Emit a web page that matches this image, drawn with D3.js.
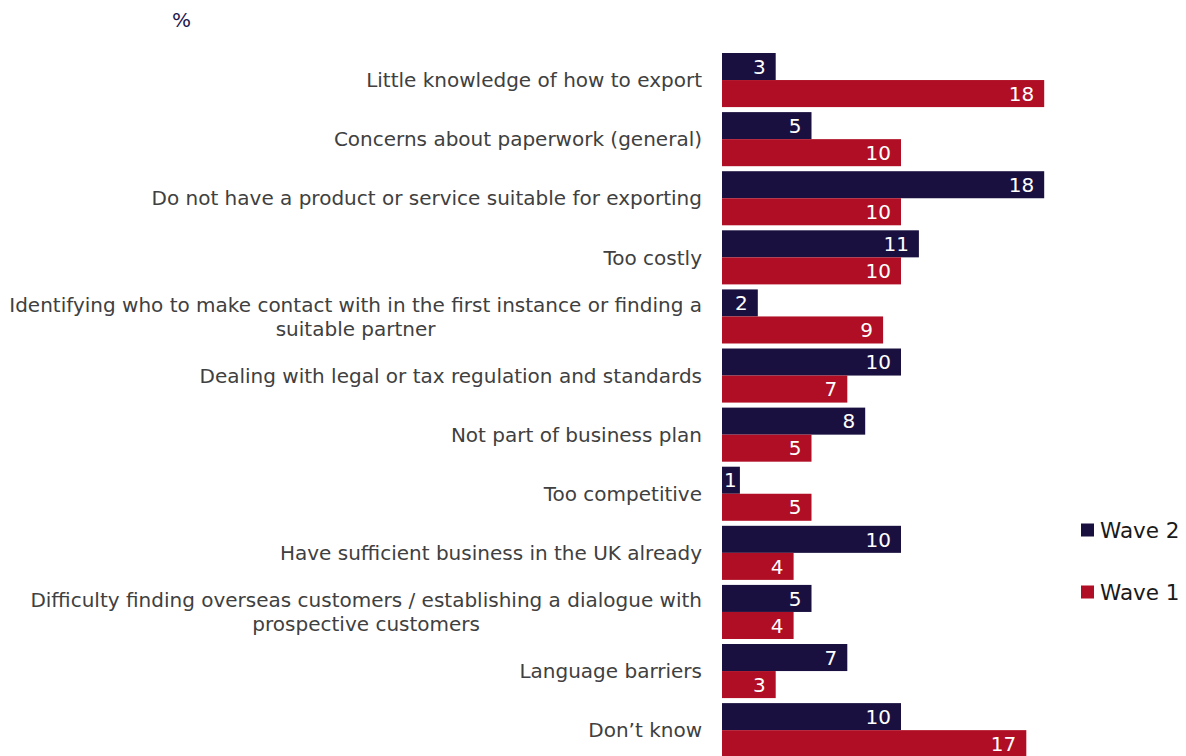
<!DOCTYPE html>
<html>
<head>
<meta charset="utf-8">
<script src="https://cdn.jsdelivr.net/npm/d3@7"></script>
<style>
  html, body { margin: 0; padding: 0; background: #ffffff; }
  svg { display: block; }
  text { font-family: "DejaVu Sans", Verdana, sans-serif; }
</style>
</head>
<body>
<svg id="chart" width="1186" height="756"></svg>
<script>
// Barriers to exporting, % of businesses, by survey wave
const categories = [
  "Little knowledge of how to export",
  "Concerns about paperwork (general)",
  "Do not have a product or service suitable for exporting",
  "Too costly",
  "Identifying who to make contact with in the first instance or finding a\nsuitable partner",
  "Dealing with legal or tax regulation and standards",
  "Not part of business plan",
  "Too competitive",
  "Have sufficient business in the UK already",
  "Difficulty finding overseas customers / establishing a dialogue with\nprospective customers",
  "Language barriers",
  "Don\u2019t know"
];
const wave2 = [3, 5, 18, 11, 2, 10, 8, 1, 10, 5, 7, 10];
const wave1 = [18, 10, 10, 10, 9, 7, 5, 5, 4, 4, 3, 17];
const seriesNames = ["Wave 2", "Wave 1"];
const seriesColors = ["#1a103f", "#b00e24"];
const unitLabel = "%";

const svg = d3.select("#chart");

const x = d3.scaleLinear().domain([0, 25]).range([722, 722 + 25 * 17.9]);
const y = d3.scaleBand().domain(categories).range([50.5, 759.7])
  .paddingInner(0.085).paddingOuter(0.0425);
const ySub = d3.scaleBand().domain(seriesNames).range([0, y.bandwidth()]);
const color = d3.scaleOrdinal().domain(seriesNames).range(seriesColors);

const rows = categories.map((c, i) => ({
  category: c,
  values: [
    { series: "Wave 2", value: wave2[i] },
    { series: "Wave 1", value: wave1[i] }
  ]
}));

// unit caption
svg.append("text")
  .attr("x", 172).attr("y", 27)
  .attr("fill", "#1f1a4d")
  .style("font-size", "20px")
  .text(unitLabel);

// bars and value labels
const groups = svg.append("g").selectAll("g")
  .data(rows).join("g")
  .attr("transform", d => `translate(0,${y(d.category)})`);

groups.selectAll("rect")
  .data(d => d.values).join("rect")
  .attr("x", x(0))
  .attr("y", d => ySub(d.series))
  .attr("width", d => x(d.value) - x(0))
  .attr("height", ySub.bandwidth())
  .attr("fill", d => color(d.series));

groups.selectAll("text.val")
  .data(d => d.values).join("text")
  .attr("class", "val")
  .attr("y", d => ySub(d.series) + ySub.bandwidth() / 2)
  .attr("dy", "0.36em")
  .attr("text-anchor", "end")
  .attr("fill", "#ffffff")
  .style("font-size", "20px")
  .text(d => d.value)
  .attr("x", function (d) {
    // keep the label inside the bar, even for very short bars
    const w = this.getComputedTextLength();
    return Math.max(x(d.value) - 10, x(0) + w + 2);
  });

// category labels, right aligned against the bars; wrapped lines centred on each other
const labelRight = 702;
const lineH = 24;
const labels = svg.append("g").selectAll("g")
  .data(categories).join("g")
  .attr("transform", d => `translate(0,${y(d) + y.bandwidth() / 2})`);

labels.each(function (d) {
  const g = d3.select(this);
  const lines = d.split("\n");
  const t = g.append("text")
    .attr("fill", "#404040")
    .style("font-size", "20px");
  const spans = lines.map((ln, i) => t.append("tspan")
    .attr("y", (i - (lines.length - 1) / 2) * lineH)
    .attr("dy", "0.36em")
    .text(ln));
  const widths = spans.map(s => s.node().getComputedTextLength());
  const maxAvail = labelRight - 8;
  const scale = Math.min(1, maxAvail / d3.max(widths));
  const w = widths.map(v => v * scale);
  const widest = d3.max(w);
  const centre = labelRight - widest / 2;
  spans.forEach((s, i) => {
    s.attr("x", centre).attr("text-anchor", "middle");
    if (scale < 1) s.attr("textLength", w[i]).attr("lengthAdjust", "spacingAndGlyphs");
  });
});

// legend
const legend = svg.append("g").selectAll("g")
  .data(seriesNames).join("g")
  .attr("transform", (d, i) => `translate(1081,${530 + i * 62})`);
legend.append("rect")
  .attr("x", 0).attr("y", -6.5).attr("width", 13).attr("height", 13)
  .attr("fill", d => color(d));
legend.append("text")
  .attr("x", 19).attr("y", 0).attr("dy", "0.36em")
  .attr("fill", "#1a1a1a")
  .style("font-size", "21.5px")
  .text(d => d);
</script>
</body>
</html>
